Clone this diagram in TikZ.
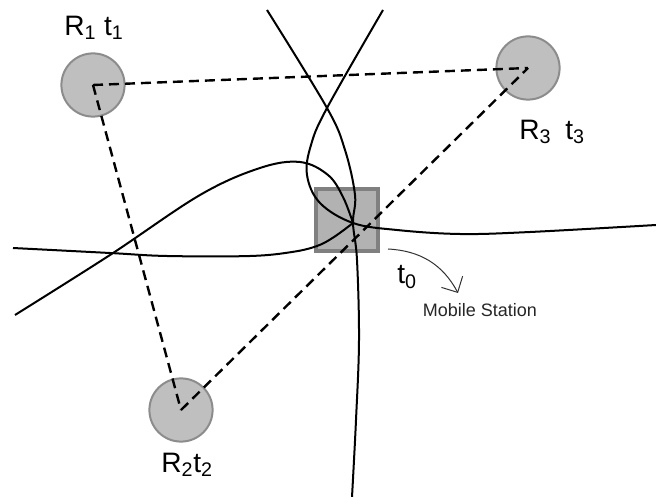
\documentclass[tikz,border=0pt]{standalone}
\usepackage{fontspec}
\setmainfont{Liberation Sans}
\usetikzlibrary{arrows.meta}

\begin{document}
\begin{tikzpicture}[x=0.025cm,y=-0.025cm,>=Stealth]
    \tikzset{
        station/.style={
            circle,draw=black!45,line width=0.05cm,fill=black!25,
            minimum size=1.58cm,inner sep=0pt
        },
        mobile/.style={
            rectangle,draw=black!50,line width=0.1cm,fill=black!30,
            minimum size=1.55cm,inner sep=0pt
        },
        label/.style={font=\fontsize{20}{24}\selectfont,inner sep=0pt},
        baseline/.style={densely dashed,dash pattern=on 0.25cm off 0.15cm,
            line width=0.06cm},
        hyper/.style={line width=0.05cm,smooth,tension=0.6}
    }
    \useasboundingbox (0,0) rectangle (656,497);

    \node[station] (r1) at (93,85) {};
    \node[station] (r3) at (528,68) {};
    \node[station] (r2) at (181,410) {};
    \node[mobile] (ms) at (347,220) {};

    \node[label] (l1) at (94,28) {R\textsubscript{1} t\textsubscript{1}};
    \node[label] (l3) at (552,132) {R\textsubscript{3}\enspace t\textsubscript{3}};
    \node[label] (l2) at (187,465) {R\textsubscript{2}t\textsubscript{2}};
    \node[label] (t0) at (407,277) {t\textsubscript{0}};
    \node[font=\fontsize{12.8}{15}\selectfont,inner sep=0pt,text=black!85]
        (name) at (480,310) {Mobile Station};

    % baselines between the receivers
    \draw[baseline] (r1.center) -- (r3.center);
    \draw[baseline] (r1.center) -- (r2.center);
    \draw[baseline] (r2.center) -- (r3.center);

    % hyperbolas through the mobile station
    \coordinate (fix) at (353,223);
    \draw[hyper] plot coordinates {(267,10) (327,108) (345,150) (355,195)
        (fix) (357,260) (359,340) (356,420) (352,497)};
    \draw[hyper] plot coordinates {(383,10) (327,108) (311,145) (307,175)
        (320,203) (fix) (397,230) (460,234) (530,232) (656,225)};
    \draw[hyper] plot coordinates {(15,315) (110,255) (200,195) (260,168)
        (300,162) (328,175) (343,197) (fix)};
    \draw[hyper] plot coordinates {(13,248) (110,253) (167,256) (250,256)
        (292,252) (317,246) (334,237) (fix)};

    \coordinate (pstart) at (388,249);
    \coordinate (pend) at (458,293);
    \draw[black!80,line width=0.025cm,
        -{Straight Barb[length=0.3cm,width=0.6cm]}]
        (pstart) to[out=-3,in=118] (pend);
\end{tikzpicture}
\end{document}
